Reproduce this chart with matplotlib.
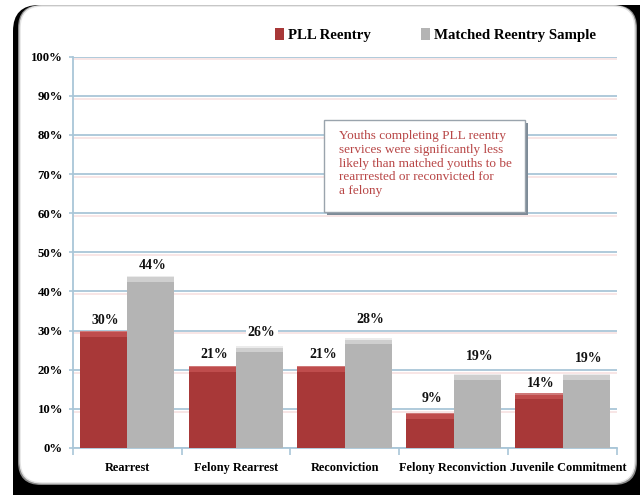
import matplotlib
matplotlib.use("Agg")
import matplotlib.pyplot as plt
import numpy as np
from matplotlib.patches import FancyBboxPatch, Rectangle, Patch
from matplotlib.transforms import IdentityTransform, ScaledTranslation
import matplotlib.patheffects as pe

# ---- data ----
categories = ["Rearrest", "Felony Rearrest", "Reconviction",
              "Felony Reconviction", "Juvenile Commitment"]
pll_reentry = [30, 21, 21, 9, 14]
matched_sample = [44, 26, 28, 19, 19]
series_names = ["PLL Reentry", "Matched Reentry Sample"]
y_ticks = [0, 10, 20, 30, 40, 50, 60, 70, 80, 90, 100]
note_text = ("Youths completing PLL reentry\n"
             "services were significantly less\n"
             "likely than matched youths to be\n"
             "rearrrested or reconvicted for\n"
             "a felony")

# ---- style ----
W, H = 640, 495
RED, RED_CAP = "#a83838", "#bf4d4d"
GRAY, GRAY_CAP = "#b4b4b4", "#cfcfcf"
GRID = "#a9c6d8"
NOTE_RED = "#b84646"
FONT = "Liberation Serif"
label_offsets_red = [10, 11, 11, 14, 10]    # px above bar top
label_offsets_gray = [10, 14, 19, 17, 15]
xlabel_shift_px = [0, 0, 0, -1, 6]

plt.rcParams["font.family"] = [FONT, "DejaVu Serif"]

fig = plt.figure(figsize=(W / 100, H / 100), dpi=100)
fig.patch.set_facecolor("white")

# background frame (display pixel coords)
idt = IdentityTransform()
frame = FancyBboxPatch((13, -30), 680, 520, boxstyle="round,pad=0,rounding_size=26",
                       fc="black", ec="none", transform=idt, zorder=-20)
panel_shadow = FancyBboxPatch((18, 10), 619, 480, boxstyle="round,pad=0,rounding_size=23",
                              fc="#8a8a8a", ec="none", transform=idt, zorder=-19)
panel = FancyBboxPatch((20, 12), 615, 477, boxstyle="round,pad=0,rounding_size=22",
                       fc="white", ec="#e2e2e2", lw=1.0, transform=idt, zorder=-18)
for p in (frame, panel_shadow, panel):
    fig.add_artist(p)

# axes placement
x_left, x_right = 72.7, 617
y_zero, y_top = 448, 56.7
ax = fig.add_axes([x_left / W, (H - y_zero) / H, (x_right - x_left) / W, (y_zero - y_top) / H])
ax.set_facecolor("none")

x = np.arange(len(categories))
bw = 0.435
bars_r = ax.bar(x - bw / 2, pll_reentry, bw, color=RED, zorder=3, linewidth=0)
bars_g = ax.bar(x + bw / 2, matched_sample, bw, color=GRAY, zorder=3, linewidth=0)

ax.set_xlim(-0.5, len(categories) - 0.5)
ax.set_ylim(0, 100)

# top caps (3D look), derived from bar geometry
px_per_unit = (y_zero - y_top) / 100.0
cap = 6 / px_per_unit
for bars, cc, hl in ((bars_r, RED_CAP, 0.25), (bars_g, GRAY_CAP, 0.6)):
    for r in bars:
        h = r.get_height()
        ax.add_patch(Rectangle((r.get_x(), h - cap), r.get_width(), cap,
                               fc=cc, ec="none", zorder=4))
        ax.add_patch(Rectangle((r.get_x(), h - 0.4), r.get_width(), 0.4,
                               fc="white", ec="none", alpha=hl, zorder=4))

# value labels
for bars, vals, offs in ((bars_r, pll_reentry, label_offsets_red),
                         (bars_g, matched_sample, label_offsets_gray)):
    for r, v, o in zip(bars, vals, offs):
        ax.annotate(f"{v}%", xy=(r.get_x() + r.get_width() / 2, v),
                    xytext=(2, o), textcoords="offset pixels",
                    ha="center", va="center", fontsize=10, fontweight="bold",
                    color="#111111", zorder=6,
                    bbox=dict(boxstyle="square,pad=0.15", fc="white", ec="none"))

# grid & spines
ax.set_yticks(y_ticks)
ax.set_yticklabels([f"{t}%" for t in y_ticks], fontsize=9.2, fontweight="bold")
ax.yaxis.grid(True, color=GRID, lw=1.3, zorder=0)
ax.set_axisbelow(True)
for gl in ax.get_ygridlines():
    gl.set_path_effects([pe.SimpleLineShadow(offset=(0, -2), shadow_color="#f0c8c8", alpha=0.5),
                         pe.Normal()])
for s in ("top", "right"):
    ax.spines[s].set_visible(False)
for s in ("left", "bottom"):
    ax.spines[s].set_color(GRID)
    ax.spines[s].set_linewidth(1.3)

ax.set_xticks(x)
ax.set_xticklabels(categories, fontsize=8.8, fontweight="bold")
ax.set_xticks(np.arange(-0.5, len(categories), 1.0), minor=True)
ax.tick_params(axis="x", which="major", length=0, pad=10)
ax.tick_params(axis="x", which="minor", length=5, color=GRID, width=1.2)
ax.tick_params(axis="y", length=3, color=GRID, width=1.2, pad=4)
for lbl, dx in zip(ax.get_xticklabels(), xlabel_shift_px):
    lbl.set_transform(lbl.get_transform() + ScaledTranslation(dx / 100, 0, fig.dpi_scale_trans))

# legend
fig.legend(handles=[Patch(fc=RED, ec="none"), Patch(fc=GRAY, ec="none")],
           labels=series_names, ncol=2, frameon=False, loc="center left",
           bbox_to_anchor=(262 / W, 1 - 35 / H),
           handlelength=0.55, handleheight=0.9, handletextpad=0.3,
           columnspacing=3.4, prop={"family": FONT, "weight": "bold", "size": 10.7})

# note box (pixel coords)
bx0, bx1, by0, by1 = 324, 525, 120, 212
shadow = FancyBboxPatch((bx0 + 3, H - by1 - 3), bx1 - bx0, by1 - by0,
                        boxstyle="square,pad=0", fc="#7d8b97", ec="none",
                        transform=idt, zorder=5)
box = FancyBboxPatch((bx0, H - by1), bx1 - bx0, by1 - by0,
                     boxstyle="square,pad=0", fc="white", ec="#9aa4ad", lw=1.0,
                     transform=idt, zorder=6)
fig.add_artist(shadow)
fig.add_artist(box)
fig.text(339 / W, 1 - 130 / H, note_text, ha="left", va="top", color=NOTE_RED,
         fontsize=9.5, linespacing=1.2, zorder=7)

fig.savefig("out.png", dpi=100)
